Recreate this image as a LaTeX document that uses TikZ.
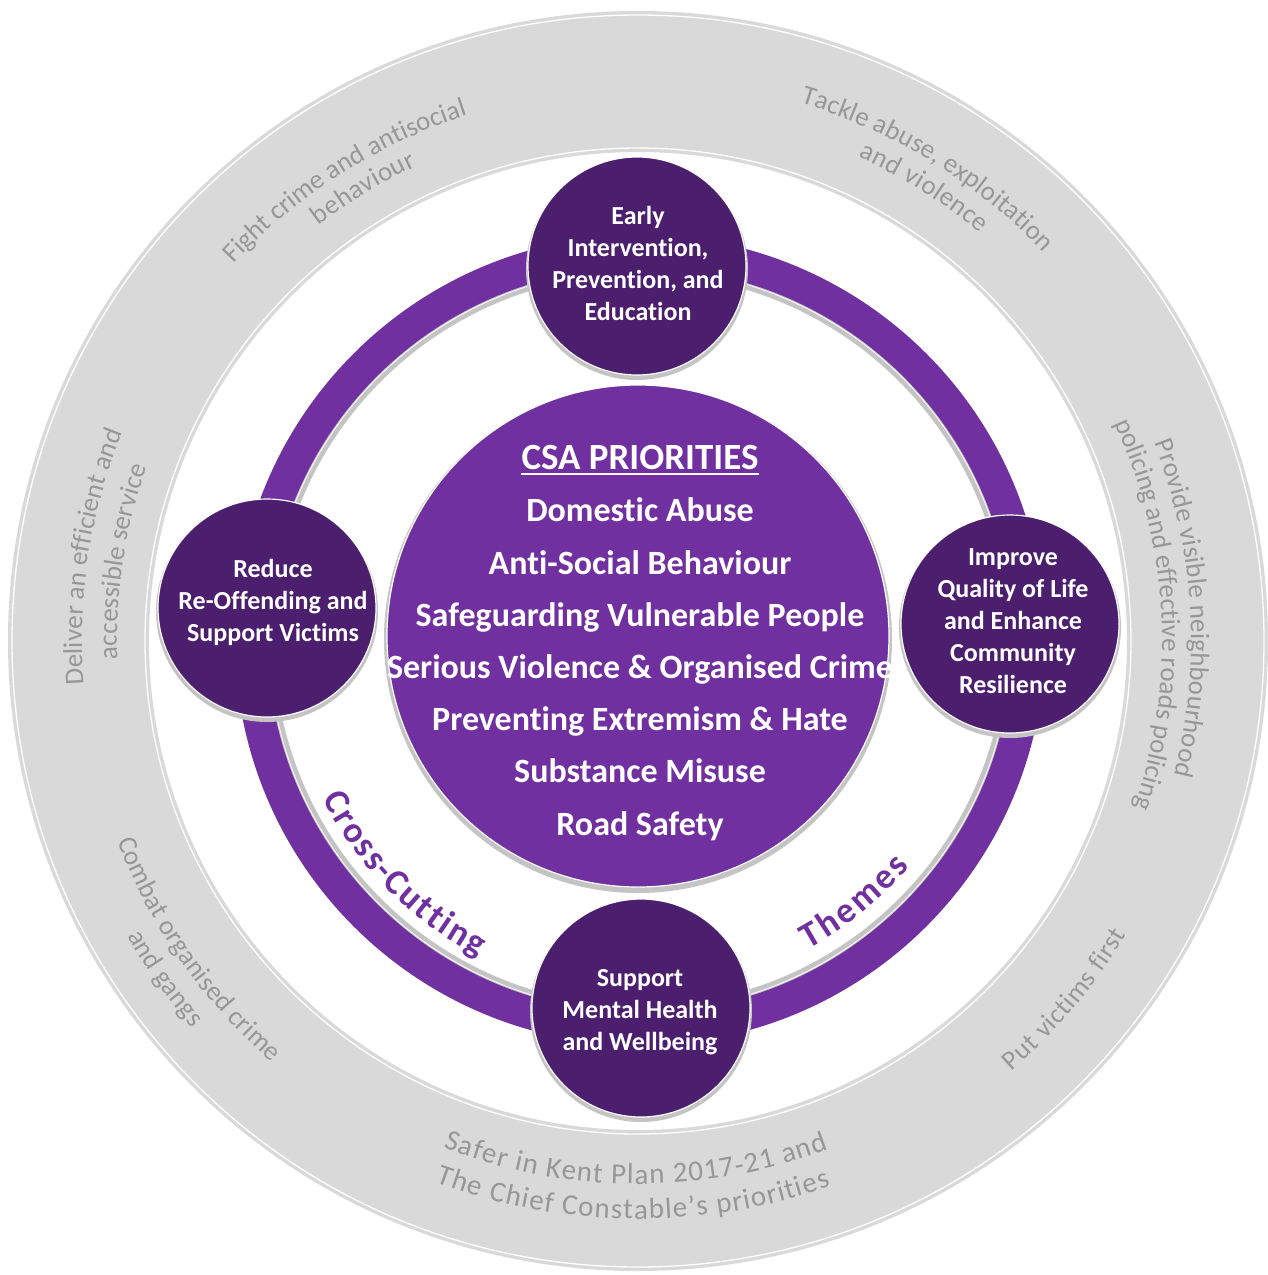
\documentclass[tikz,border=0pt]{standalone}
\usepackage{fontspec}
\setmainfont{Carlito}[Ligatures={NoCommon}, RawFeature=-calt, RawFeature=-clig, RawFeature=-dlig]
\usetikzlibrary{calc,decorations.text}
\definecolor{ringgray}{HTML}{D9D9D9}
\definecolor{txtgray}{HTML}{979797}
\definecolor{csapurple}{HTML}{7030A0}
\definecolor{darkpurple}{HTML}{4B1E6E}
\definecolor{shadowgray}{HTML}{C4C4C4}
\newcommand\gringfont{\fontsize{27}{30}\selectfont\color{txtgray}}
\newcommand\gbigfont{\fontsize{29}{32}\selectfont\color{txtgray}}
\newcommand\themefont{\fontsize{36}{40}\selectfont\bfseries\color{csapurple}}
\begin{document}
\begin{tikzpicture}[x=1pt,y=-1pt,
  ringtxt/.style={decorate, decoration={text along path, text align={fit to path}, text={|\gringfont|#1}}},
  bigringtxt/.style={decorate, decoration={text along path, text align={fit to path}, text={|\gbigfont|#1}}},
  themetxt/.style={decorate, decoration={text along path, text align={fit to path}, text={|\themefont|#1}}},
  disc/.style={circle, fill=darkpurple, draw=white, line width=1.2pt, minimum size=218pt, inner sep=0pt},
  core/.style={circle, fill=csapurple, draw=white, line width=1.2pt, minimum size=502pt, inner sep=0pt},
  disclabel/.style={text=white, font=\fontsize{26}{32}\selectfont\bfseries, anchor=base, inner sep=0pt},
  prio/.style={text=white, font=\fontsize{34}{40}\selectfont\bfseries, anchor=base, inner sep=0pt},
  priohead/.style={text=white, font=\fontsize{37}{42}\selectfont\bfseries, anchor=base, inner sep=0pt}
]
\fill[white] (0,0) rectangle (1268,1275);
\useasboundingbox (0,0) rectangle (1268,1275);
\coordinate (C) at (638,641);
\coordinate (P) at (640,640);
\coordinate (M) at (638,636);
\coordinate (earlyC) at (637,266);
\coordinate (reduceC) at (267,608);
\coordinate (improveC) at (1010,624);
\coordinate (supportC) at (641,1008);

% outer grey ring
\fill[ringgray, even odd rule] (C) circle[radius=630pt] (C) circle[radius=489pt];
\draw[white, line width=1.3pt] (C) circle[radius=626pt];
\draw[white, line width=1.3pt] (C) circle[radius=493pt];

% grey ring texts (upper half, clockwise)
\path[ringtxt={Fight crime and antisocial}] ($(C)+(137:553pt)$) arc[start angle=137, end angle=108, radius=553pt];
\path[ringtxt={behaviour}] ($(C)+(127.5:524pt)$) arc[start angle=127.5, end angle=115, radius=524pt];
\path[ringtxt={Tackle abuse{,} exploitation}] ($(C)+(73.2:562pt)$) arc[start angle=73.2, end angle=43.8, radius=562pt];
\path[ringtxt={and violence}] ($(C)+(65.5:532pt)$) arc[start angle=65.5, end angle=50, radius=532pt];
\path[ringtxt={Provide visible neighbourhood}] ($(C)+(21:553pt)$) arc[start angle=21, end angle=-14, radius=553pt];
\path[ringtxt={policing and effective roads policing}] ($(C)+(24.5:524pt)$) arc[start angle=24.5, end angle=-18.5, radius=524pt];
\path[ringtxt={Deliver an efficient and}] ($(C)+(184.5:556pt)$) arc[start angle=184.5, end angle=158, radius=556pt];
\path[ringtxt={accessible service}] ($(C)+(182:521pt)$) arc[start angle=182, end angle=160.5, radius=521pt];
% grey ring texts (lower half, counter-clockwise)
\path[ringtxt={Combat organised crime}] ($(C)+(201:558pt)$) arc[start angle=201, end angle=229, radius=558pt];
\path[ringtxt={and gangs}] ($(C)+(210:590pt)$) arc[start angle=210, end angle=221, radius=590pt];
\path[ringtxt={Put victims first}] ($(C)+(311:570pt)$) arc[start angle=311, end angle=329, radius=570pt];
\path[bigringtxt={Safer in Kent Plan 2017-21 and}] ($(C)+(249:543pt)$) arc[start angle=249, end angle=290.5, radius=543pt];
\path[bigringtxt={The Chief Constable’s priorities}] ($(C)+(249.5:578pt)$) arc[start angle=249.5, end angle=289.5, radius=578pt];

% purple themes ring
\fill[shadowgray, even odd rule] (P) circle[radius=373pt] (P) circle[radius=366pt];
\fill[csapurple, even odd rule] (P) circle[radius=405pt] (P) circle[radius=372.5pt];
\draw[white, line width=0.8pt] (P) circle[radius=371pt];
\path[themetxt={Cross-Cutting}] ($(P)+(206.5:355pt)$) arc[start angle=206.5, end angle=243, radius=355pt];
\path[themetxt={Themes}] ($(P)+(298.5:352pt)$) arc[start angle=298.5, end angle=320, radius=352pt];

% central circle
\fill[shadowgray] ($(M)+(0,3)$) circle[radius=254pt];
\node[core] (core) at (M) {};

% theme discs
\foreach \c in {earlyC,reduceC,improveC,supportC}
  \fill[shadowgray] ($(\c)+(0,3)$) circle[radius=111pt];
\node[disc] (early) at (earlyC) {};
\node[disc] (reduce) at (reduceC) {};
\node[disc] (improve) at (improveC) {};
\node[disc] (support) at (supportC) {};

% disc labels
\node[disclabel] (e1) at (638,224.5) {Early};
\node[disclabel] (e2) at (638,256.5) {Intervention,};
\node[disclabel] (e3) at (638,288.5) {Prevention, and};
\node[disclabel] (e4) at (638,320.5) {Education};
\node[disclabel] (r1) at (273,577.5) {Reduce};
\node[disclabel] (r2) at (273,609.5) {Re-Offending and};
\node[disclabel] (r3) at (273,641.5) {Support Victims};
\node[disclabel] (i1) at (1013,565) {Improve};
\node[disclabel] (i2) at (1013,597) {Quality of Life};
\node[disclabel] (i3) at (1013,629) {and Enhance};
\node[disclabel] (i4) at (1013,661) {Community};
\node[disclabel] (i5) at (1013,693) {Resilience};
\node[disclabel] (s1) at (640,986.5) {Support};
\node[disclabel] (s2) at (640,1018.5) {Mental Health};
\node[disclabel] (s3) at (640,1050.5) {and Wellbeing};

% priorities
\node[priohead] (m0) at (640,469) {CSA PRIORITIES};
\draw[white, line width=2.5pt] ([yshift=-5pt]m0.base west) -- ([yshift=-5pt]m0.base east);
\node[prio] (m1) at (640,521.5) {Domestic Abuse};
\node[prio] (m2) at (640,574) {Anti-Social Behaviour};
\node[prio] (m3) at (640,626) {Safeguarding Vulnerable People};
\node[prio] (m4) at (640,678) {Serious Violence \& Organised Crime};
\node[prio] (m5) at (640,730.5) {Preventing Extremism \& Hate};
\node[prio] (m6) at (640,782.5) {Substance Misuse};
\node[prio] (m7) at (640,835) {Road Safety};
\end{tikzpicture}
\end{document}
